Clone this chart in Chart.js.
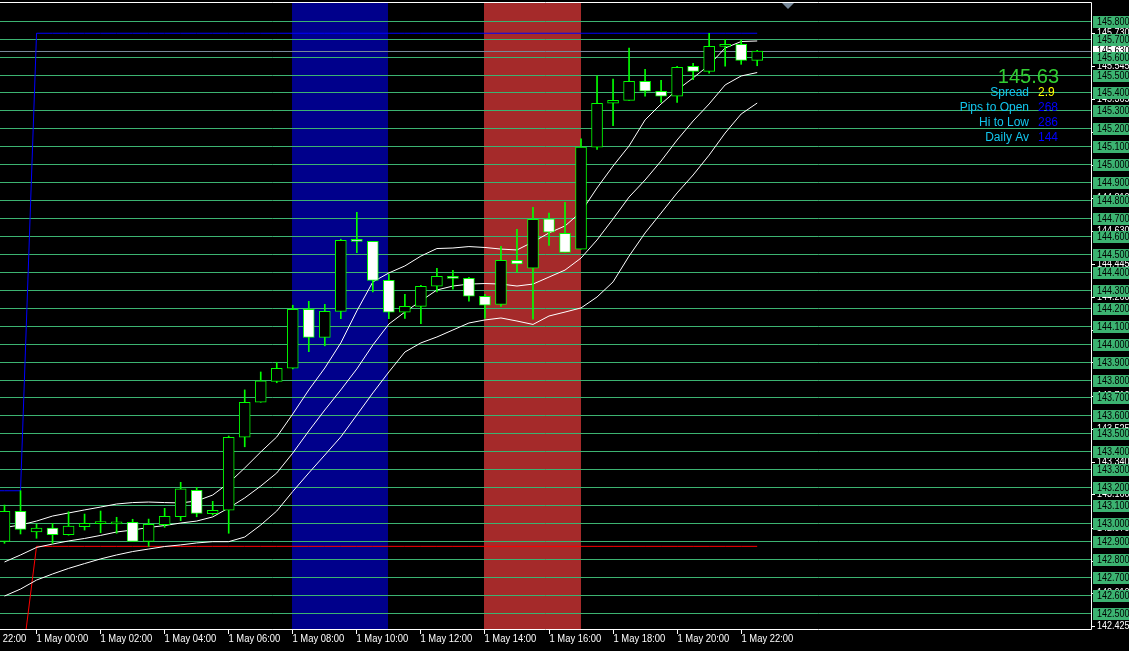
<!DOCTYPE html>
<html>
<head>
<meta charset="utf-8">
<script src="https://cdn.jsdelivr.net/npm/chart.js@4.4.0/dist/chart.umd.min.js"></script>
<style>
  html, body { margin: 0; padding: 0; background: #000; }
  canvas { display: block; }
</style>
</head>
<body>
<canvas id="chart" width="1129" height="651"></canvas>
<script>
// M30 candles, 30 Apr 23:00 .. 1 May 22:30 (index 0 .. 47)
const opens = [142.898, 143.065, 142.950, 142.972, 142.935, 142.980, 142.997, 142.995, 143.004, 142.898,
  142.991, 143.035, 143.182, 143.052, 143.071, 143.478, 143.673, 143.790, 143.863, 144.191,
  144.035, 144.180, 144.576, 144.570, 144.353, 144.175, 144.208, 144.320, 144.375, 144.364,
  144.264, 144.219, 144.465, 144.420, 144.696, 144.615, 144.526, 145.095, 145.340, 145.356,
  145.462, 145.407, 145.379, 145.546, 145.518, 145.657, 145.668, 145.579];
const highs = [143.100, 143.180, 142.993, 142.998, 143.063, 143.050, 143.067, 143.032, 143.021, 143.022,
  143.082, 143.227, 143.199, 143.121, 143.485, 143.742, 143.842, 143.896, 144.214, 144.236,
  144.219, 144.582, 144.732, 144.570, 144.386, 144.275, 144.325, 144.420, 144.409, 144.370,
  144.275, 144.543, 144.637, 144.760, 144.728, 144.788, 145.141, 145.493, 145.475, 145.648,
  145.529, 145.468, 145.546, 145.563, 145.730, 145.696, 145.692, 145.635];
const lows = [142.887, 142.939, 142.915, 142.887, 142.932, 142.961, 142.946, 142.943, 142.898, 142.870,
  142.976, 143.013, 143.035, 143.045, 142.943, 143.425, 143.673, 143.782, 143.859, 143.955,
  143.988, 144.139, 144.507, 144.288, 144.139, 144.141, 144.111, 144.288, 144.303, 144.236,
  144.141, 144.208, 144.398, 144.136, 144.548, 144.509, 144.526, 145.083, 145.215, 145.356,
  145.379, 145.345, 145.345, 145.471, 145.507, 145.546, 145.557, 145.549];
const closes = [143.065, 142.965, 142.972, 142.935, 142.983, 142.998, 142.999, 143.004, 142.898, 142.993,
  143.038, 143.190, 143.054, 143.071, 143.478, 143.673, 143.792, 143.863, 144.191, 144.035,
  144.180, 144.576, 144.570, 144.353, 144.175, 144.208, 144.320, 144.375, 144.364, 144.264,
  144.214, 144.465, 144.444, 144.693, 144.621, 144.509, 145.096, 145.340, 145.356, 145.462,
  145.407, 145.379, 145.540, 145.518, 145.657, 145.668, 145.579, 145.630];

// the three white moving averages
const maFast = [142.975, 142.989, 143.011, 143.039, 143.056, 143.073, 143.089, 143.106, 143.114, 143.117,
  143.114, 143.112, 143.123, 143.156, 143.223, 143.307, 143.396, 143.480, 143.608, 143.742,
  143.864, 144.004, 144.182, 144.344, 144.394, 144.433, 144.488, 144.530, 144.533, 144.541,
  144.536, 144.527, 144.522, 144.567, 144.617, 144.656, 144.734, 144.868, 144.990, 145.102,
  145.247, 145.336, 145.414, 145.481, 145.553, 145.648, 145.684, 145.687];
const maMid = [142.783, 142.822, 142.864, 142.883, 142.900, 142.914, 142.931, 142.950, 142.961, 142.975,
  142.986, 143.000, 143.011, 143.034, 143.084, 143.140, 143.206, 143.279, 143.390, 143.513,
  143.630, 143.742, 143.859, 143.992, 144.109, 144.176, 144.238, 144.299, 144.321, 144.332,
  144.335, 144.332, 144.321, 144.332, 144.371, 144.410, 144.477, 144.578, 144.695, 144.817,
  144.912, 145.018, 145.135, 145.241, 145.336, 145.442, 145.492, 145.511];
const maSlow = [142.593, 142.632, 142.682, 142.716, 142.747, 142.774, 142.800, 142.822, 142.841, 142.855,
  142.869, 142.878, 142.889, 142.896, 142.896, 142.922, 142.989, 143.067, 143.176, 143.279,
  143.379, 143.480, 143.602, 143.725, 143.842, 143.953, 144.004, 144.037, 144.076, 144.115,
  144.132, 144.143, 144.126, 144.107, 144.154, 144.176, 144.199, 144.260, 144.344, 144.488,
  144.617, 144.728, 144.840, 144.940, 145.051, 145.174, 145.280, 145.341];

// daily high / low levels (yesterday, today), day starts at candle 2
const prevDayHigh = 143.18, prevDayLow = 142.16;
const dayHigh = 145.73, dayLow = 142.87;
const dayStart = 2;
const bid = 145.63;

// session boxes (candle index from..to)
const sessions = [
  { from: 18, to: 24, color: '#00008B' },
  { from: 30, to: 36, color: '#A52A2A' }
];

// horizontal line objects every 0.1
const levels = [142.5, 142.6, 142.7, 142.8, 142.9, 143.0, 143.1, 143.2, 143.3, 143.4, 143.5, 143.6,
  143.7, 143.8, 143.9, 144.0, 144.1, 144.2, 144.3, 144.4, 144.5, 144.6, 144.7, 144.8, 144.9, 145.0,
  145.1, 145.2, 145.3, 145.4, 145.5, 145.6, 145.7, 145.8];

// terminal price scale labels
const scaleLabels = [145.730, 145.545, 145.365, 145.180, 144.995, 144.810, 144.630, 144.445, 144.260,
  144.075, 143.895, 143.710, 143.525, 143.340, 143.160, 142.975, 142.790, 142.610, 142.425];

const timeTicks = [-2, 2, 6, 10, 14, 18, 22, 26, 30, 34, 38, 42, 46];
const timeLabels = ['30 Apr 22:00', '1 May 00:00', '1 May 02:00', '1 May 04:00', '1 May 06:00',
  '1 May 08:00', '1 May 10:00', '1 May 12:00', '1 May 14:00', '1 May 16:00', '1 May 18:00',
  '1 May 20:00', '1 May 22:00'];

const infoLabels = ['Spread', 'Pips to Open', 'Hi to Low', 'Daily Av'];
const infoValues = ['2.9', '268', '286', '144'];
const infoColors = ['#FFFF00', '#0000FF', '#0000FF', '#0000FF'];

const GREEN = '#00FF00';
const LEVEL = '#3CB371';
const FONT = '"Liberation Sans", Arial, sans-serif';

const idx = opens.map((_, i) => i);
const bodies = idx.map(i => ({ x: i, y: [opens[i], closes[i]] }));
const bodyFill = idx.map(i => closes[i] >= opens[i] ? '#000000' : '#FFFFFF');
const wicks = idx.map(i => ({ x: i, y: [lows[i], highs[i]] }));
const toPts = arr => arr.map((v, i) => ({ x: i, y: v }));
const levelIdx = [-1].concat(idx);
const hiPts = levelIdx.map(i => ({ x: i, y: i < dayStart ? prevDayHigh : dayHigh }));
const loPts = levelIdx.map(i => ({ x: i, y: i < dayStart ? prevDayLow : dayLow }));

function lineDs(pts, color) {
  return { type: 'line', data: pts, borderColor: color, borderWidth: 1, pointRadius: 0,
    tension: 0, fill: false, order: 2 };
}

// text squeezed horizontally, like the narrow terminal font
function narrowText(g, txt, x, y, sx) {
  g.save();
  g.translate(x, y);
  g.scale(sx, 1);
  g.fillText(txt, 0, 0);
  g.restore();
}

const decor = {
  id: 'decor',
  beforeDatasetsDraw(c) {
    const g = c.ctx, xs = c.scales.x, ys = c.scales.y, a = c.chartArea;
    g.save();
    sessions.forEach(s => {
      const x0 = Math.floor(xs.getPixelForValue(s.from)), x1 = Math.floor(xs.getPixelForValue(s.to));
      g.fillStyle = s.color;
      g.fillRect(x0, a.top, x1 - x0, a.bottom - a.top);
    });
    g.lineWidth = 1;
    g.strokeStyle = LEVEL;
    levels.forEach(p => {
      const y = Math.round(ys.getPixelForValue(p)) + 0.5;
      g.beginPath(); g.moveTo(a.left, y); g.lineTo(a.right, y); g.stroke();
    });
    g.strokeStyle = '#778899';
    const yb = Math.round(ys.getPixelForValue(bid)) + 0.5;
    g.beginPath(); g.moveTo(a.left, yb); g.lineTo(a.right, yb); g.stroke();
    g.restore();
  },
  afterDraw(c) {
    const g = c.ctx, xs = c.scales.x, ys = c.scales.y, a = c.chartArea;
    g.save();
    // frame
    g.strokeStyle = '#FFFFFF'; g.lineWidth = 1;
    g.beginPath();
    g.moveTo(a.left, a.top - 0.5); g.lineTo(a.right + 0.5, a.top - 0.5);
    g.moveTo(a.right + 0.5, a.top - 0.5); g.lineTo(a.right + 0.5, a.bottom + 0.5);
    g.moveTo(a.left, a.bottom + 0.5); g.lineTo(a.right + 0.5, a.bottom + 0.5);
    g.stroke();

    // time axis
    g.font = '10px ' + FONT;
    g.fillStyle = '#FFFFFF';
    g.textAlign = 'left'; g.textBaseline = 'middle';
    timeTicks.forEach((t, k) => {
      const x = Math.floor(xs.getPixelForValue(t)) + 0.5;
      g.beginPath(); g.moveTo(x, a.bottom); g.lineTo(x, a.bottom + 5); g.stroke();
      narrowText(g, timeLabels[k], x, a.bottom + 10.5, 0.94);
    });

    // price scale labels
    g.font = '10px ' + FONT;
    const bx = a.right + 2;
    scaleLabels.forEach(p => {
      const y = Math.round(ys.getPixelForValue(p)) + 0.5;
      g.beginPath(); g.moveTo(a.right, y); g.lineTo(a.right + 4, y); g.stroke();
      g.fillStyle = '#FFFFFF';
      narrowText(g, p.toFixed(3), bx + 4, y, 0.9);
    });
    // bid label
    const yb = Math.round(ys.getPixelForValue(bid));
    g.fillStyle = '#FFFFFF';
    g.fillRect(bx, yb - 6, c.width - bx, 12);
    g.fillStyle = '#000000';
    narrowText(g, bid.toFixed(3), bx + 4, yb + 0.5, 0.9);
    // line object labels
    levels.forEach(p => {
      const y = Math.round(ys.getPixelForValue(p));
      g.fillStyle = LEVEL;
      g.fillRect(bx, y - 5, c.width - bx, 12);
      g.fillStyle = '#000000';
      narrowText(g, p.toFixed(3), bx + 4, y + 1, 0.9);
    });

    // info panel
    g.textBaseline = 'alphabetic';
    g.textAlign = 'right';
    g.font = '20px ' + FONT;
    g.fillStyle = '#32CD32';
    g.fillText(bid.toFixed(2), 1059, 83);
    g.font = '12px ' + FONT;
    infoLabels.forEach((t, k) => {
      const y = 96 + k * 15;
      g.textAlign = 'right';
      g.fillStyle = '#12C6EE';
      g.fillText(t, 1029, y);
      g.textAlign = 'left';
      g.fillStyle = infoColors[k];
      g.fillText(infoValues[k], 1038, y);
    });

    // chart shift marker
    g.fillStyle = '#778899';
    g.beginPath(); g.moveTo(782, a.top); g.lineTo(794, a.top); g.lineTo(788, a.top + 6); g.closePath(); g.fill();
    g.restore();
  }
};

new Chart(document.getElementById('chart'), {
  type: 'bar',
  data: {
    datasets: [
      { label: 'body', data: bodies, backgroundColor: bodyFill, borderColor: GREEN, borderWidth: 1,
        borderSkipped: false, barThickness: 11, minBarLength: 2, grouped: false, order: 0 },
      { label: 'wick', data: wicks, backgroundColor: GREEN, barThickness: 1, grouped: false, order: 1 },
      lineDs(toPts(maFast), '#FFFFFF'),
      lineDs(toPts(maMid), '#FFFFFF'),
      lineDs(toPts(maSlow), '#FFFFFF'),
      lineDs(hiPts, '#0000FF'),
      lineDs(loPts, '#FF0000')
    ]
  },
  options: {
    responsive: false,
    animation: false,
    devicePixelRatio: 1,
    layout: { padding: { left: 0, right: 38, top: 3, bottom: 22 } },
    plugins: { legend: { display: false }, tooltip: { enabled: false } },
    scales: {
      x: { type: 'linear', min: -0.28125, max: 67.84375, offset: false, display: false },
      y: { type: 'linear', min: 142.4093, max: 145.8987, display: false }
    }
  },
  plugins: [{ id: 'bg', beforeDraw(c) { c.ctx.save(); c.ctx.fillStyle = '#000'; c.ctx.fillRect(0, 0, c.width, c.height); c.ctx.restore(); } }, decor]
});
</script>
</body>
</html>
